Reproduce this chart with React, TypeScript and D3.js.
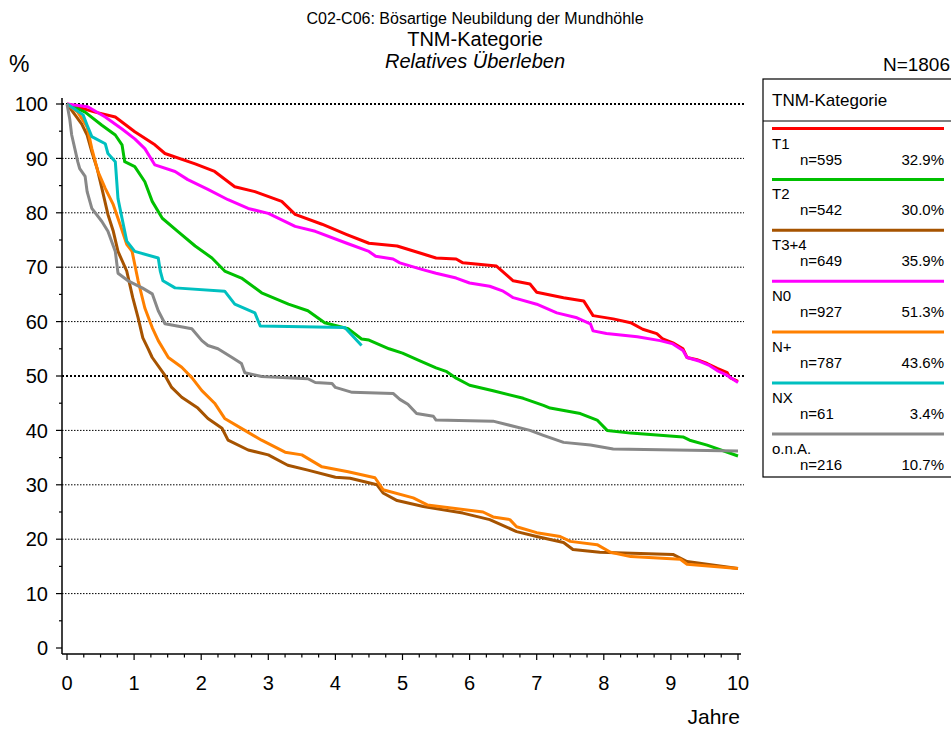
import React from "react";
import * as d3 from "d3";

type Pt = [number, number];

const titleLines = ["C02-C06: Bösartige Neubildung der Mundhöhle", "TNM-Kategorie", "Relatives Überleben"];
const totalLabel = "N=1806";
const legendTitle = "TNM-Kategorie";
const xTicks = [0, 1, 2, 3, 4, 5, 6, 7, 8, 9, 10];
const yTicks = [0, 10, 20, 30, 40, 50, 60, 70, 80, 90, 100];

const categories = ["T1", "T2", "T3+4", "N0", "N+", "NX", "o.n.A."];
const counts = [595, 542, 649, 927, 787, 61, 216];
const shares = ["32.9%", "30.0%", "35.9%", "51.3%", "43.6%", "3.4%", "10.7%"];
const colors = ["#ff0000", "#00c000", "#a65300", "#ff00ff", "#ff8000", "#00c0c0", "#888888"];

const t1: Pt[] = [[0,100],[0.42,98.5],[0.72,97.6],[1.01,94.9],[1.31,92.5],[1.46,90.9],[1.91,89.0],[2.2,87.6],[2.5,84.8],[2.8,83.9],[3.2,82.1],[3.4,79.7],[3.8,77.9],[4.17,76.0],[4.5,74.4],[4.92,73.9],[5.26,72.6],[5.5,71.7],[5.8,71.5],[5.9,70.8],[6.4,70.2],[6.65,67.5],[6.9,66.9],[7.0,65.4],[7.4,64.4],[7.7,63.8],[7.84,61.1],[8.14,60.5],[8.4,59.8],[8.58,58.6],[8.79,57.8],[8.88,56.8],[9.03,56.1],[9.18,55.0],[9.24,53.4],[9.39,53.0],[9.54,52.3],[9.69,51.4],[9.84,50.6],[9.88,49.7],[10,49.0]];
const t2: Pt[] = [[0,100],[0.27,98.5],[0.52,96.1],[0.72,94.3],[0.82,92.5],[0.86,89.4],[1.01,88.5],[1.16,85.7],[1.27,82.1],[1.42,79.0],[1.65,76.6],[1.91,73.9],[2.16,71.7],[2.35,69.3],[2.6,68.0],[2.9,65.3],[3.3,63.2],[3.59,62.0],[3.84,59.8],[4.19,58.7],[4.39,56.8],[4.5,56.6],[4.8,55.0],[5.0,54.2],[5.26,52.8],[5.5,51.5],[5.66,50.8],[5.8,49.6],[6.0,48.3],[6.35,47.3],[6.8,45.9],[7.1,44.6],[7.2,44.1],[7.65,43.1],[7.9,41.9],[8.05,40.0],[8.4,39.5],[9.18,38.8],[9.28,38.2],[9.54,37.3],[10,35.3]];
const t34: Pt[] = [[0,100],[0.12,98],[0.22,96.3],[0.3,94.3],[0.37,91.2],[0.45,88.1],[0.52,84.5],[0.61,79.7],[0.69,76.6],[0.76,72.9],[0.89,69.3],[0.98,64.4],[1.06,60.7],[1.13,57.0],[1.21,55.0],[1.27,53.4],[1.46,50.1],[1.56,47.9],[1.71,46.1],[1.95,44.1],[2.1,42.2],[2.31,40.4],[2.4,38.2],[2.7,36.4],[3.0,35.5],[3.29,33.6],[3.59,32.7],[4.0,31.4],[4.22,31.2],[4.62,30.0],[4.71,28.5],[4.92,27.1],[5.31,26.0],[5.9,24.8],[6.3,23.6],[6.7,21.4],[7.0,20.5],[7.4,19.4],[7.54,18.1],[7.94,17.6],[9.03,17.2],[9.24,15.9],[10,14.6]];
const n0: Pt[] = [[0,100],[0.31,99.5],[0.57,97.6],[0.82,95.4],[1.01,93.6],[1.16,91.8],[1.31,88.8],[1.61,87.6],[1.8,86.1],[2.1,84.3],[2.4,82.4],[2.7,80.8],[3.0,79.9],[3.4,77.5],[3.7,76.6],[4.17,74.4],[4.5,72.9],[4.6,72.0],[4.86,71.5],[4.96,70.8],[5.26,69.7],[5.5,68.9],[5.8,68.0],[6.0,67.1],[6.3,66.5],[6.5,65.6],[6.65,64.4],[7.0,63.2],[7.3,61.6],[7.6,60.7],[7.8,59.6],[7.84,58.3],[8.04,57.8],[8.5,57.2],[8.84,56.5],[9.03,55.9],[9.18,54.7],[9.24,53.4],[9.43,52.7],[9.58,51.9],[9.69,51.0],[9.84,50.1],[10,48.8]];
const nPlus: Pt[] = [[0,100],[0.16,98.5],[0.3,95.8],[0.37,91.8],[0.46,87.6],[0.57,84.5],[0.69,81.5],[0.79,77.9],[0.89,74.2],[0.97,72.9],[1.06,67.5],[1.16,62.5],[1.27,58.9],[1.36,56.5],[1.51,53.4],[1.71,51.6],[1.86,49.7],[2.01,47.3],[2.2,45.0],[2.35,42.2],[2.65,40.0],[2.9,38.2],[3.25,36.0],[3.5,35.5],[3.8,33.3],[4.19,32.4],[4.59,31.3],[4.71,29.1],[5.16,27.6],[5.37,26.3],[6.2,25.0],[6.35,24.1],[6.6,23.6],[6.7,22.3],[7.0,21.2],[7.35,20.5],[7.5,19.6],[7.9,19.0],[8.1,17.6],[8.4,16.8],[9.14,16.3],[9.24,15.4],[10,14.6]];
const nx: Pt[] = [[0,100],[0.24,98],[0.3,96.1],[0.37,94],[0.57,92.7],[0.61,90.9],[0.72,89.4],[0.76,82.6],[0.82,79.0],[0.89,74.8],[1.01,72.9],[1.36,71.7],[1.39,69.3],[1.43,67.5],[1.61,66.2],[2.35,65.6],[2.5,63.2],[2.8,61.6],[2.88,59.2],[4.14,58.9],[4.39,55.6]];
const ona: Pt[] = [[0,100],[0.04,97.3],[0.07,94.3],[0.12,91.6],[0.16,89.4],[0.19,88.1],[0.27,86.7],[0.3,83.9],[0.37,80.8],[0.52,78.4],[0.61,76.6],[0.72,72.9],[0.76,68.9],[0.91,67.5],[1.12,66.2],[1.27,65.1],[1.36,62.0],[1.46,59.6],[1.86,58.7],[2.01,56.5],[2.1,55.6],[2.25,55.0],[2.46,53.4],[2.6,52.3],[2.65,50.6],[2.9,49.9],[3.59,49.5],[3.7,48.8],[3.95,48.6],[4.0,47.9],[4.25,47.0],[4.86,46.8],[4.96,45.7],[5.08,44.8],[5.21,43.1],[5.46,42.6],[5.5,41.9],[6.35,41.7],[6.9,40.0],[7.1,39.1],[7.4,37.8],[7.8,37.3],[8.14,36.6],[10,36.2]];

const seriesData = [t1, t2, t34, n0, nPlus, nx, ona];

const FONT = "'Liberation Sans', Arial, Helvetica, sans-serif";

export default function App() {
  const W = 951, H = 729;
  const x = d3.scaleLinear().domain([0, 10]).range([67, 738]);
  const y = d3.scaleLinear().domain([0, 100]).range([648, 104]);
  const line = d3.line<Pt>().x(d => x(d[0])).y(d => y(d[1]));
  const axisX = 62, axisY = 654;
  const minorX = d3.range(0, 10.001, 0.25);
  const minorY = d3.range(5, 100, 10);

  const lgX = 763, lgY = 79, lgBottom = 477;
  const entry0 = 128.5, entryStep = 50.9;

  return (
    <svg width={W} height={H} style={{ position: "absolute", left: 0, top: 0, background: "#fff" }} fontFamily={FONT}>
      <rect x={0} y={0} width={W} height={H} fill="#fff" />
      {/* titles */}
      <text x={475} y={24} fontSize={16} textAnchor="middle">{titleLines[0]}</text>
      <text x={475} y={46} fontSize={20} textAnchor="middle">{titleLines[1]}</text>
      <text x={475} y={68} fontSize={20} textAnchor="middle" fontStyle="italic">{titleLines[2]}</text>
      <text x={9} y={72} fontSize={23}>%</text>
      <text x={950} y={71} fontSize={19} textAnchor="end">{totalLabel}</text>

      {/* grid */}
      {yTicks.filter(v => v > 0).map(v => (
        <line key={"g" + v} x1={axisX} x2={744} y1={y(v)} y2={y(v)} stroke="#000"
          strokeWidth={v === 50 || v === 100 ? 2 : 1}
          strokeDasharray={v === 50 || v === 100 ? "2,2" : "1.5,1.5"} />
      ))}

      {/* axes */}
      <line x1={axisX} x2={axisX} y1={98} y2={axisY} stroke="#000" strokeWidth={1.5} />
      <line x1={axisX} x2={741} y1={axisY} y2={axisY} stroke="#000" strokeWidth={1.5} />
      {yTicks.map(v => (
        <g key={"yt" + v}>
          <line x1={axisX - 6} x2={axisX} y1={y(v)} y2={y(v)} stroke="#000" strokeWidth={1.2} />
          <text x={48} y={y(v)} dy="0.36em" fontSize={20} textAnchor="end">{v}</text>
        </g>
      ))}
      {minorY.map(v => (
        <line key={"ym" + v} x1={axisX - 3} x2={axisX} y1={y(v)} y2={y(v)} stroke="#000" strokeWidth={1.2} />
      ))}
      {minorX.map(v => (
        <line key={"xm" + v} x1={x(v)} x2={x(v)} y1={axisY} y2={axisY + (Number.isInteger(v) ? 6 : 3.5)} stroke="#000" strokeWidth={1.2} />
      ))}
      {xTicks.map(v => (
        <text key={"xt" + v} x={x(v)} y={690} fontSize={20} textAnchor="middle">{v}</text>
      ))}
      <text x={740} y={724} fontSize={21} textAnchor="end">Jahre</text>

      {/* curves */}
      {seriesData.map((s, i) => (
        <path key={"s" + i} d={line(s) || ""} fill="none" stroke={colors[i]} strokeWidth={3} strokeLinejoin="round" />
      ))}

      {/* legend */}
      <rect x={lgX} y={lgY} width={W - lgX + 10} height={lgBottom - lgY} fill="#fff" stroke="#000" strokeWidth={1.2} />
      <text x={772} y={106} fontSize={17}>{legendTitle}</text>
      <line x1={lgX} x2={W} y1={121} y2={121} stroke="#000" strokeWidth={1.2} />
      {categories.map((c, i) => {
        const ly = entry0 + i * entryStep;
        return (
          <g key={"lg" + c}>
            <line x1={772} x2={944} y1={ly} y2={ly} stroke={colors[i]} strokeWidth={3} />
            <text x={772} y={ly + 20} fontSize={15}>{c}</text>
            <text x={800} y={ly + 36} fontSize={15}>{"n=" + counts[i]}</text>
            <text x={944} y={ly + 36} fontSize={15} textAnchor="end">{shares[i]}</text>
          </g>
        );
      })}
    </svg>
  );
}
